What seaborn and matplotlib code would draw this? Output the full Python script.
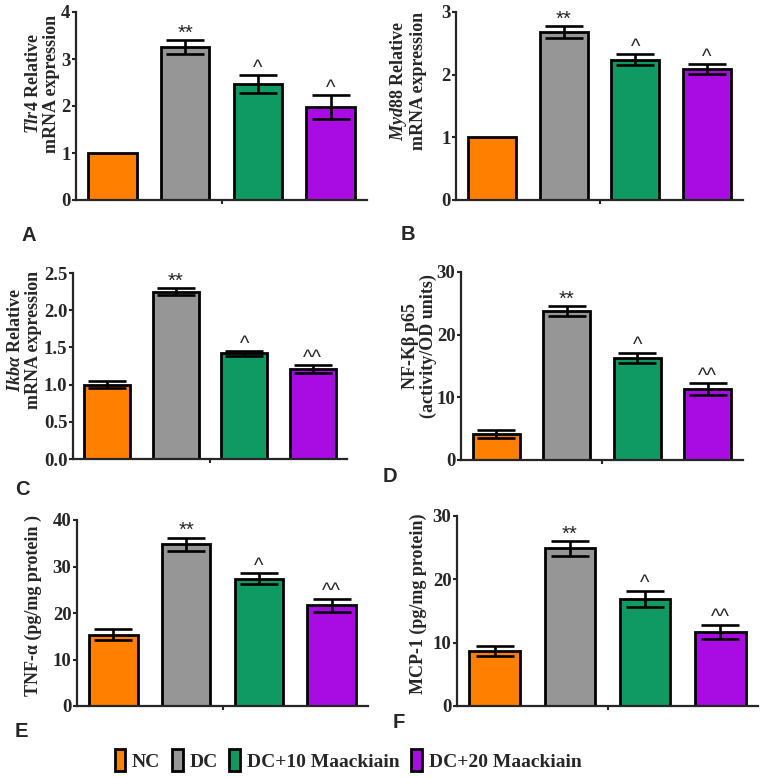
import numpy as np
import pandas as pd
import matplotlib
matplotlib.use("Agg")
import matplotlib.pyplot as plt
import seaborn as sns
from matplotlib.patches import Patch

# ---------------- data ----------------
groups = ["NC", "DC", "DC+10 Maackiain", "DC+20 Maackiain"]
colors = ["#FF8000", "#969696", "#0F9A63", "#A90CE3"]

tlr4_mean = [1.0, 3.25, 2.47, 1.98]
tlr4_err = [0.0, 0.15, 0.19, 0.25]
tlr4_sig = ["", "**", "^", "^"]

myd88_mean = [1.0, 2.68, 2.24, 2.09]
myd88_err = [0.0, 0.10, 0.09, 0.08]
myd88_sig = ["", "**", "^", "^"]

ikba_mean = [1.00, 2.25, 1.42, 1.21]
ikba_err = [0.05, 0.05, 0.03, 0.05]
ikba_sig = ["", "**", "^", "^^"]

nfkb_mean = [4.2, 23.8, 16.3, 11.3]
nfkb_err = [0.65, 0.75, 0.85, 0.95]
nfkb_sig = ["", "**", "^", "^^"]

tnf_mean = [15.3, 34.8, 27.4, 21.7]
tnf_err = [1.2, 1.4, 1.15, 1.4]
tnf_sig = ["", "**", "^", "^^"]

mcp_mean = [8.7, 24.9, 16.9, 11.7]
mcp_err = [0.8, 1.15, 1.3, 1.15]
mcp_sig = ["", "**", "^", "^^"]

# ---------------- style ----------------
sns.set_style("ticks")
plt.rcParams["font.family"] = ["Liberation Serif", "DejaVu Serif"]
plt.rcParams["font.weight"] = "bold"
plt.rcParams["axes.labelweight"] = "bold"
plt.rcParams["mathtext.fontset"] = "custom"
plt.rcParams["mathtext.it"] = "Liberation Serif:italic:bold"
plt.rcParams["mathtext.rm"] = "Liberation Serif:bold"
plt.rcParams["mathtext.bf"] = "Liberation Serif:bold"

W, H = 763, 778
fig = plt.figure(figsize=(W / 100, H / 100), dpi=100)


def rect(l, r, t, b):
    return [l / W, 1 - b / H, (r - l) / W, (b - t) / H]


panels = [
    dict(mean=tlr4_mean, err=tlr4_err, sig=tlr4_sig, ymax=4, ticks=[0, 1, 2, 3, 4], fmt="{:.0f}",
         label="$\\mathit{Tlr4}$ Relative\nmRNA expression", box=(76, 367, 12, 200),
         lab=(-0.055, 0.62), letter="A", lpos=(21, 241)),
    dict(mean=myd88_mean, err=myd88_err, sig=myd88_sig, ymax=3, ticks=[0, 1, 2, 3], fmt="{:.0f}",
         label="$\\mathit{Myd88}$ Relative\nmRNA expression", box=(456, 743, 12, 200),
         lab=(-0.101, 0.633), letter="B", lpos=(401, 240)),
    dict(mean=ikba_mean, err=ikba_err, sig=ikba_sig, ymax=2.5, ticks=[0, 0.5, 1.0, 1.5, 2.0, 2.5], fmt="{:.1f}",
         label="$\\mathit{Ikb\\alpha}$ Relative\nmRNA expression", box=(73, 347, 273, 459),
         lab=(-0.113, 0.64), letter="C", lpos=(15, 495)),
    dict(mean=nfkb_mean, err=nfkb_err, sig=nfkb_sig, ymax=30, ticks=[0, 10, 20, 30], fmt="{:.0f}",
         label="NF-K\u03b2 p65\n(activity/OD units)", box=(461, 743, 272, 460),
         lab=(-0.085, 0.606), letter="D", lpos=(383, 482)),
    dict(mean=tnf_mean, err=tnf_err, sig=tnf_sig, ymax=40, ticks=[0, 10, 20, 30, 40], fmt="{:.0f}",
         label="TNF-\u03b1 (pg/mg protein )", box=(77, 368, 520, 706),
         lab=(-0.12, 0.538), letter="E", lpos=(15, 737)),
    dict(mean=mcp_mean, err=mcp_err, sig=mcp_sig, ymax=30, ticks=[0, 10, 20, 30], fmt="{:.0f}",
         label="MCP-1 (pg/mg protein)", box=(457, 758, 516, 706),
         lab=(-0.10, 0.537), letter="F", lpos=(393, 728)),
]

for p in panels:
    ax = fig.add_axes(rect(*p["box"]))
    df = pd.DataFrame({"grp": [""] * 4, "treatment": groups, "value": p["mean"]})
    sns.barplot(data=df, x="grp", y="value", hue="treatment", hue_order=groups,
                palette=colors, saturation=1, width=0.8, gap=0.33, errorbar=None,
                edgecolor="black", linewidth=2.0, legend=False, ax=ax, zorder=2)
    bars = [b for b in ax.patches][:4]
    for b, m, e, s in zip(bars, p["mean"], p["err"], p["sig"]):
        xc = b.get_x() + b.get_width() / 2
        if e > 0:
            ax.errorbar([xc], [m], yerr=[e], fmt="none", ecolor="black",
                        elinewidth=1.9, capsize=13.5, capthick=1.9, zorder=3)
        if s:
            ax.annotate(s, xy=(xc, m + e), xytext=(0, 1.0), textcoords="offset points",
                        ha="center", va="baseline", fontsize=14.5,
                        family=["Liberation Sans", "DejaVu Sans"], fontweight="normal",
                        color="#262626")
    ax.set_xlim(-0.4, 0.4)
    ax.set_ylim(0, p["ymax"])
    ax.set_yticks(p["ticks"])
    ax.set_yticklabels([p["fmt"].format(t) for t in p["ticks"]], fontsize=13.5, fontweight="bold")
    ax.set_xticks([0])
    ax.set_xticklabels([""])
    ax.set_xlabel("")
    ax.set_ylabel(p["label"], fontsize=13, fontweight="bold", linespacing=1.05)
    ax.yaxis.set_label_coords(*p["lab"])
    ax.tick_params(axis="y", length=3, width=1.5, pad=1)
    ax.tick_params(axis="x", length=3, width=1.5)
    for side in ["top", "right"]:
        ax.spines[side].set_visible(False)
    for side in ["left", "bottom"]:
        ax.spines[side].set_linewidth(1.6)
    fig.text(p["lpos"][0] / W, 1 - p["lpos"][1] / H, p["letter"], fontsize=14.5,
             fontweight="bold", family=["Liberation Sans", "DejaVu Sans"],
             ha="left", va="baseline")

handles = [Patch(facecolor=c, edgecolor="black", linewidth=2.0) for c in colors]
fig.legend(handles, groups, loc="center", bbox_to_anchor=(348 / W, 1 - 760 / H),
           ncol=4, frameon=False, handlelength=0.55, handleheight=1.3,
           handletextpad=0.35, columnspacing=0.6,
           prop={"family": "Liberation Serif", "weight": "bold", "size": 14})

fig.savefig("out.png", dpi=100)
